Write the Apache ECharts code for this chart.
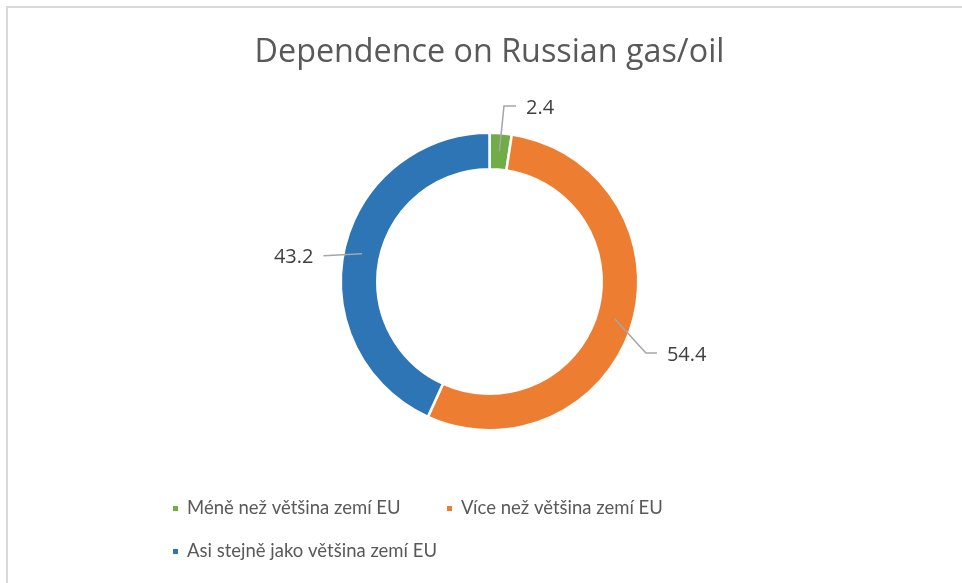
<!DOCTYPE html>
<html>
<head>
<meta charset="utf-8">
<title>Dependence on Russian gas/oil</title>
<script src="https://cdn.jsdelivr.net/npm/echarts@6/dist/echarts.min.js"></script>
<style>
  html, body { margin: 0; padding: 0; background: #ffffff; }
  #chart { width: 962px; height: 583px; }
</style>
</head>
<body>
<div id="chart"></div>
<script>
// Survey answers: how dependent the country is on Russian gas/oil compared with other EU states
const categories = [
  'Méně než většina zemí EU',
  'Více než většina zemí EU',
  'Asi stejně jako většina zemí EU'
];
const values = [2.4, 54.4, 43.2];
const colors = ['#70ad47', '#ed7d31', '#2e75b6'];
const chartTitle = 'Dependence on Russian gas/oil';

// Ring geometry and leader-line routing
const CX = 489.5, CY = 281.5;
const R_IN = 113.5, R_OUT = 147.5;
const SEAM = 2.5;
const leaderRadius = [176, 172, 168];
const leaderTurn = [0.4, 8, -3.4];   // degrees added to the slice mid-angle at the elbow
const leaderTail = [12, 11, 0];
const FONT = '"Open Sans", "Noto Sans", sans-serif';
const LEGEND_FONT = 'Lato, "Open Sans", sans-serif';

const total = values.reduce((a, b) => a + b, 0);
function midAngle(i) {
  let before = 0;
  for (let k = 0; k < i; k++) before += values[k];
  return (before + values[i] / 2) / total * 2 * Math.PI;
}
function polar(r, a) {
  return [CX + r * Math.sin(a), CY - r * Math.cos(a)];
}
// Leader from the middle of the ring, out to an elbow, then a short horizontal tail
function leader(i) {
  const a = midAngle(i);
  const start = polar((R_IN + R_OUT) / 2, a);
  const elbow = polar(leaderRadius[i], a + leaderTurn[i] * Math.PI / 180);
  const side = elbow[0] >= CX ? 1 : -1;
  const end = [elbow[0] + side * leaderTail[i], elbow[1]];
  return { points: [start, elbow, end], end: end, side: side };
}

const chart = echarts.init(document.getElementById('chart'), null, { renderer: 'canvas' });

function legendBlock(names, left, top) {
  return {
    data: names,
    left: left,
    top: top,
    padding: 0,
    orient: 'horizontal',
    icon: 'rect',
    itemWidth: 7,
    itemHeight: 7,
    itemGap: 46,
    selectedMode: false,
    textStyle: {
      color: '#595959',
      fontSize: 18.5,
      fontFamily: LEGEND_FONT,
      padding: [0, 0, 0, 3]
    }
  };
}

const leaderLines = values.map((v, i) => ({
  type: 'polyline',
  silent: true,
  z: 100,
  shape: { points: leader(i).points },
  style: { stroke: '#a6a6a6', lineWidth: 1.5, fill: null }
}));

chart.setOption({
  animation: false,
  backgroundColor: '#ffffff',
  color: colors,
  graphic: [
    {
      type: 'rect',
      silent: true,
      shape: { x: 7, y: 7, width: 2000, height: 2000 },
      style: { fill: 'none', stroke: '#d9d9d9', lineWidth: 2 }
    },
    {
      type: 'text',
      silent: true,
      x: CX,
      y: 53,
      style: {
        text: chartTitle,
        fill: '#595959',
        font: '32.3px ' + FONT,
        textAlign: 'center',
        textVerticalAlign: 'middle'
      }
    }
  ].concat(leaderLines),
  legend: [
    legendBlock([categories[0]], 171, 499),
    legendBlock([categories[1]], 445, 499),
    legendBlock([categories[2]], 171, 542)
  ],
  series: [
    {
      type: 'pie',
      center: [CX, CY],
      radius: [R_IN - SEAM / 2, R_OUT + SEAM / 2],
      startAngle: 90,
      clockwise: true,
      avoidLabelOverlap: false,
      emphasis: { disabled: true },
      itemStyle: { borderColor: '#ffffff', borderWidth: SEAM },
      data: categories.map((name, i) => ({ name: name, value: values[i] })),
      label: {
        show: true,
        position: 'outside',
        formatter: '{c}',
        color: '#404040',
        fontSize: 20,
        fontFamily: FONT
      },
      labelLine: { show: false },
      labelLayout: function (params) {
        const l = leader(params.dataIndex);
        return {
          x: l.end[0] + l.side * 10,
          y: l.end[1] + 2,
          align: l.side > 0 ? 'left' : 'right',
          verticalAlign: 'middle'
        };
      }
    }
  ]
});
</script>
</body>
</html>
